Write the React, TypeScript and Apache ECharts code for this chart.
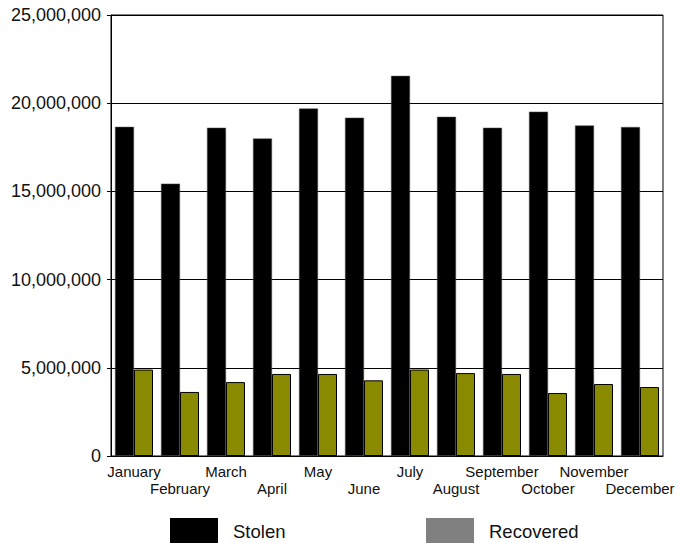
import React, { useEffect, useRef } from "react";
import * as echarts from "echarts";

const months = [
  "January", "February", "March", "April", "May", "June",
  "July", "August", "September", "October", "November", "December",
];
const stolen = [
  18660000, 15440000, 18610000, 18000000, 19700000, 19180000,
  21550000, 19230000, 18610000, 19520000, 18740000, 18650000,
];
const recovered = [
  4900000, 3630000, 4190000, 4650000, 4650000, 4290000,
  4900000, 4700000, 4650000, 3570000, 4080000, 3910000,
];
const yTicks = { min: 0, max: 25000000, interval: 5000000 };

const FONT = "'Liberation Sans', Arial, Helvetica, sans-serif";

export default function App() {
  const ref = useRef<HTMLDivElement>(null);
  useEffect(() => {
    if (!ref.current) return;
    const chart = echarts.init(ref.current, null, { renderer: "svg" });
    const legendText = {
      fontFamily: FONT,
      fontSize: 18.5,
      color: "#111",
      padding: [0, 0, 16, 10],
    };
    chart.setOption({
      animation: false,
      backgroundColor: "#ffffff",
      grid: {
        left: 111,
        right: 24,
        top: 15,
        bottom: 87,
        show: true,
        borderColor: "#000",
        borderWidth: 1,
        containLabel: false,
      },
      legend: [
        {
          data: [{ name: "Stolen", itemStyle: { color: "#000000", borderWidth: 0 } }],
          left: 170,
          top: 518,
          padding: 0,
          itemWidth: 48,
          itemHeight: 26,
          icon: "rect",
          textStyle: legendText,
        },
        {
          data: [{ name: "Recovered", itemStyle: { color: "#808080", borderWidth: 0 } }],
          left: 426,
          top: 518,
          padding: 0,
          itemWidth: 48,
          itemHeight: 26,
          icon: "rect",
          textStyle: legendText,
        },
      ],
      xAxis: {
        type: "category",
        data: months,
        axisLine: { lineStyle: { color: "#000", width: 1 } },
        axisTick: { show: false },
        axisLabel: {
          interval: 0,
          margin: 7,
          fontFamily: FONT,
          fontSize: 15,
          lineHeight: 17,
          color: "#111",
          formatter: (v: string, i: number) => (i % 2 === 1 ? "\n" + v : v),
        },
      },
      yAxis: {
        type: "value",
        min: yTicks.min,
        max: yTicks.max,
        interval: yTicks.interval,
        axisLine: { show: true, lineStyle: { color: "#000", width: 1 } },
        axisTick: { show: true, length: 4, lineStyle: { color: "#000" } },
        splitLine: { show: true, lineStyle: { color: "#000", width: 1 } },
        axisLabel: {
          margin: 10,
          fontFamily: FONT,
          fontSize: 18,
          color: "#111",
          formatter: (v: number) => v.toLocaleString("en-US"),
        },
      },
      series: [
        {
          name: "Stolen",
          type: "bar",
          data: stolen,
          barWidth: 19,
          barGap: "0%",
          itemStyle: { color: "#000000", borderColor: "#555", borderWidth: 0.5 },
        },
        {
          name: "Recovered",
          type: "bar",
          data: recovered,
          barWidth: 19,
          barGap: "0%",
          itemStyle: { color: "#8a8a00", borderColor: "#000", borderWidth: 1 },
        },
      ],
    });
    return () => chart.dispose();
  }, []);
  return (
    <div
      ref={ref}
      style={{ position: "absolute", left: 0, top: 0, width: 687, height: 543, overflow: "hidden" }}
    />
  );
}
